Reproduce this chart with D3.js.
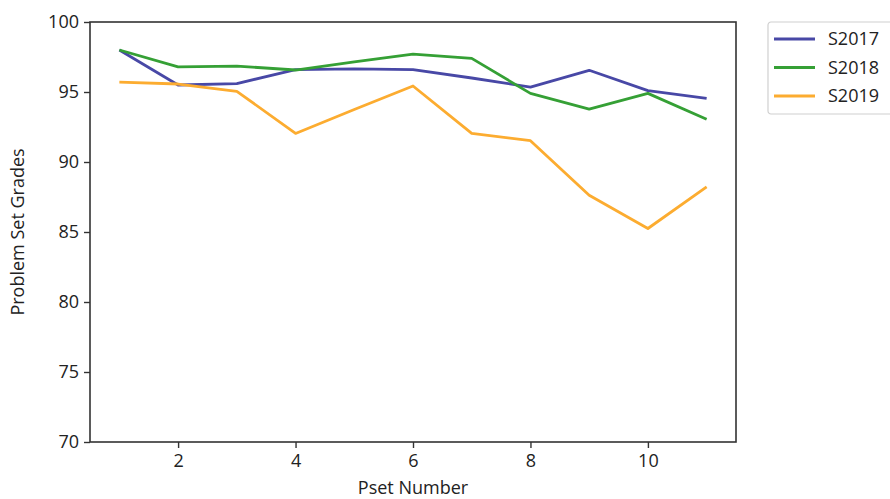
<!DOCTYPE html>
<html>
<head>
<meta charset="utf-8">
<script src="https://cdn.jsdelivr.net/npm/d3@7"></script>
<style>
	body { margin: 0; background: #fff; }
	svg text { font-family: "Open Sans", sans-serif; fill: #222; }
</style>
</head>
<body>
<div class="chart"></div>
<script>
// pset numbers and grades per semester
var psets = [1, 2, 3, 4, 5, 6, 7, 8, 9, 10, 11];
var s2017 = [98.0, 95.5, 95.6, 96.6, 96.65, 96.6, 96.0, 95.35, 96.55, 95.1, 94.55];
var s2018 = [98.0, 96.8, 96.85, 96.57, 97.15, 97.7, 97.4, 94.9, 93.78, 94.9, 93.05];
var s2019 = [95.7, 95.57, 95.05, 92.04, 93.75, 95.43, 92.04, 91.52, 87.63, 85.25, 88.23];
var series_names = ["S2017", "S2018", "S2019"];
var series_colors = ["#4848a6", "#35a035", "#fcac30"];
var y_ticks = [70, 75, 80, 85, 90, 95, 100];
var x_ticks = [2, 4, 6, 8, 10];

var width = 890, height = 499;
var margin = {left: 90, top: 22, right: 154, bottom: 57};
var w = width - margin.left - margin.right;
var h = height - margin.top - margin.bottom;

var svg = d3.select("div.chart")
	.append("svg")
	.attr("width", width)
	.attr("height", height);

var plotarea = svg.append("g")
	.attr("transform", "translate(" + margin.left + "," + margin.top + ")");

var xScale = d3.scaleLinear().domain([0.5, 11.5]).range([0, w]);
var yScale = d3.scaleLinear().domain([70, 100]).range([h, 0]);

var series = [s2017, s2018, s2019].map(function(vals, i){
	return {
		name: series_names[i],
		color: series_colors[i],
		points: psets.map(function(p, j){ return {x: p, y: vals[j]}; })
	};
});

var line = d3.line()
	.x(function(d){ return xScale(d.x); })
	.y(function(d){ return yScale(d.y); });

plotarea.selectAll("path.series")
	.data(series)
	.enter()
	.append("path")
	.classed("series", true)
	.attr("d", function(d){ return line(d.points); })
	.attr("fill", "none")
	.attr("stroke", function(d){ return d.color; })
	.attr("stroke-width", 2.8)
	.attr("stroke-linejoin", "round");

// frame
plotarea.append("rect")
	.attr("width", w)
	.attr("height", h)
	.attr("fill", "none")
	.attr("stroke", "#333")
	.attr("stroke-width", 1.6);

var xAxis = plotarea.append("g")
	.attr("transform", "translate(0," + h + ")")
	.call(d3.axisBottom(xScale).tickValues(x_ticks).tickSize(6).tickPadding(6));
var yAxis = plotarea.append("g")
	.call(d3.axisLeft(yScale).tickValues(y_ticks).tickSize(6).tickPadding(5));

[xAxis, yAxis].forEach(function(ax){
	ax.select(".domain").remove();
	ax.selectAll("line").attr("stroke", "#333").attr("stroke-width", 1.4);
	ax.selectAll("text")
		.style("font-family", "'Open Sans', sans-serif")
		.style("font-size", "18px")
		.attr("fill", "#222");
});

svg.append("text")
	.attr("x", margin.left + w / 2)
	.attr("y", 494)
	.attr("text-anchor", "middle")
	.style("font-size", "18px")
	.text("Pset Number");

svg.append("text")
	.attr("transform", "translate(24," + (margin.top + h / 2) + ") rotate(-90)")
	.attr("text-anchor", "middle")
	.style("font-size", "18px")
	.text("Problem Set Grades");

// legend
var legend = svg.append("g").attr("transform", "translate(768,22)");
legend.append("rect")
	.attr("width", 140)
	.attr("height", 92)
	.attr("rx", 3)
	.attr("fill", "#fff")
	.attr("stroke", "#d0d0d0")
	.attr("stroke-width", 1.2);

var items = legend.selectAll("g.item")
	.data(series)
	.enter()
	.append("g")
	.classed("item", true)
	.attr("transform", function(d, i){ return "translate(0," + (17 + i * 28.5) + ")"; });
items.append("line")
	.attr("x1", 6).attr("x2", 47)
	.attr("stroke", function(d){ return d.color; })
	.attr("stroke-width", 2.8);
items.append("text")
	.attr("x", 60)
	.attr("dy", "0.35em")
	.style("font-size", "18px")
	.text(function(d){ return d.name; });
</script>
</body>
</html>
